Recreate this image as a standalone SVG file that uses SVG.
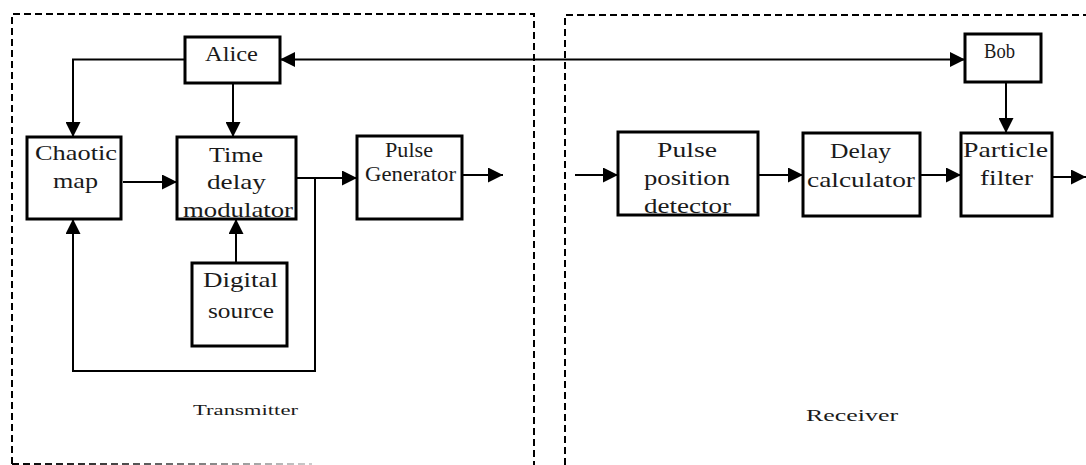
<svg xmlns="http://www.w3.org/2000/svg" width="1086" height="465" viewBox="0 0 1086 465">
  <style>
    .box { fill: #fff; stroke: #000; stroke-width: 3; }
    text { font-family: 'Liberation Serif', 'Times New Roman', 'DejaVu Serif', serif; fill: #1a1a1a; }
    .lbl { font-size: 22px; }
    .sm { font-size: 20px; }
    .wire { fill: none; stroke: #000; stroke-width: 2; }
    .frame { fill: none; stroke: #000; stroke-width: 2; stroke-dasharray: 7 4; }
  </style>
  <defs>
    <marker id="arrow" markerUnits="userSpaceOnUse" markerWidth="15" markerHeight="15" refX="15" refY="7.5" orient="auto-start-reverse">
      <path d="M0,0 L15,7.5 L0,15 z" fill="#000"/>
    </marker>
    <linearGradient id="fade" x1="12" y1="0" x2="312" y2="0" gradientUnits="userSpaceOnUse">
      <stop offset="0" stop-color="#000"/>
      <stop offset="1" stop-color="#ccc"/>
    </linearGradient>
  </defs>

  <rect width="1086" height="465" fill="#fff"/>

  <!-- Section frames -->
  <g id="transmitter-frame">
    <path class="frame" d="M12,464 V14 H534 V465"/>
    <path d="M12,464 H312" fill="none" stroke="url(#fade)" stroke-width="2" stroke-dasharray="7 4"/>
    <text x="193" y="415" style="font-size:15px" textLength="105" lengthAdjust="spacingAndGlyphs">Transmitter</text>
  </g>
  <g id="receiver-frame">
    <path class="frame" d="M565,465 V15 H1086"/>
    <text x="806" y="421" style="font-size:17px" textLength="92" lengthAdjust="spacingAndGlyphs">Receiver</text>
  </g>

  <!-- Connectors -->
  <g id="connectors">
    <path class="wire" d="M185,59.5 H73 V137" marker-end="url(#arrow)"/>
    <path class="wire" d="M233,83 V137" marker-end="url(#arrow)"/>
    <path class="wire" d="M280,59.5 H965" marker-start="url(#arrow)" marker-end="url(#arrow)"/>
    <path class="wire" d="M123,182 H177" marker-end="url(#arrow)"/>
    <path class="wire" d="M296,178 H357" marker-end="url(#arrow)"/>
    <path class="wire" d="M315,178 V371 H73 V219" marker-end="url(#arrow)"/>
    <path class="wire" d="M236,263 V219" marker-end="url(#arrow)"/>
    <path class="wire" d="M462,175 H503" marker-end="url(#arrow)"/>
    <path class="wire" d="M575,175 H618" marker-end="url(#arrow)"/>
    <path class="wire" d="M758,175 H803" marker-end="url(#arrow)"/>
    <path class="wire" d="M920,175 H961" marker-end="url(#arrow)"/>
    <path class="wire" d="M1052,177 H1086" marker-end="url(#arrow)"/>
    <path class="wire" d="M1006,82 V133" marker-end="url(#arrow)"/>
  </g>

  <!-- Transmitter blocks -->
  <g id="alice">
    <rect class="box" x="185" y="37" width="95" height="46"/>
    <text class="lbl" x="205" y="61" textLength="53" lengthAdjust="spacingAndGlyphs">Alice</text>
  </g>
  <g id="chaotic-map">
    <rect class="box" x="27" y="137" width="94" height="82"/>
    <text class="lbl" x="35" y="160" textLength="82" lengthAdjust="spacingAndGlyphs">Chaotic</text>
    <text class="lbl" x="53" y="188" textLength="45" lengthAdjust="spacingAndGlyphs">map</text>
  </g>
  <g id="time-delay-modulator">
    <rect class="box" x="177" y="137" width="119" height="82"/>
    <text class="lbl" x="209" y="162" textLength="54" lengthAdjust="spacingAndGlyphs">Time</text>
    <text class="lbl" x="207" y="189" textLength="59" lengthAdjust="spacingAndGlyphs">delay</text>
    <text class="lbl" x="183" y="217" textLength="110" lengthAdjust="spacingAndGlyphs">modulator</text>
  </g>
  <g id="pulse-generator">
    <rect class="box" x="357" y="136" width="105" height="83"/>
    <text class="sm" x="385" y="157" textLength="48" lengthAdjust="spacingAndGlyphs">Pulse</text>
    <text class="sm" x="365" y="181" textLength="91" lengthAdjust="spacingAndGlyphs">Generator</text>
  </g>
  <g id="digital-source">
    <rect class="box" x="192" y="263" width="95" height="83"/>
    <text class="lbl" x="203" y="287" textLength="75" lengthAdjust="spacingAndGlyphs">Digital</text>
    <text class="lbl" x="208" y="318" textLength="66" lengthAdjust="spacingAndGlyphs">source</text>
  </g>

  <!-- Receiver blocks -->
  <g id="bob">
    <rect class="box" x="965" y="34" width="76" height="48"/>
    <text class="lbl" x="984" y="58" textLength="31" lengthAdjust="spacingAndGlyphs">Bob</text>
  </g>
  <g id="pulse-position-detector">
    <rect class="box" x="618" y="132" width="140" height="83"/>
    <text class="lbl" x="657" y="157" textLength="60" lengthAdjust="spacingAndGlyphs">Pulse</text>
    <text class="lbl" x="644" y="185" textLength="86" lengthAdjust="spacingAndGlyphs">position</text>
    <text class="lbl" x="644" y="213" textLength="87" lengthAdjust="spacingAndGlyphs">detector</text>
  </g>
  <g id="delay-calculator">
    <rect class="box" x="803" y="133" width="117" height="83"/>
    <text class="lbl" x="830" y="158" textLength="61" lengthAdjust="spacingAndGlyphs">Delay</text>
    <text class="lbl" x="807" y="187" textLength="108" lengthAdjust="spacingAndGlyphs">calculator</text>
  </g>
  <g id="particle-filter">
    <rect class="box" x="961" y="133" width="91" height="83"/>
    <text class="lbl" x="963" y="157" textLength="85" lengthAdjust="spacingAndGlyphs">Particle</text>
    <text class="lbl" x="980" y="185" textLength="53" lengthAdjust="spacingAndGlyphs">filter</text>
  </g>
</svg>
